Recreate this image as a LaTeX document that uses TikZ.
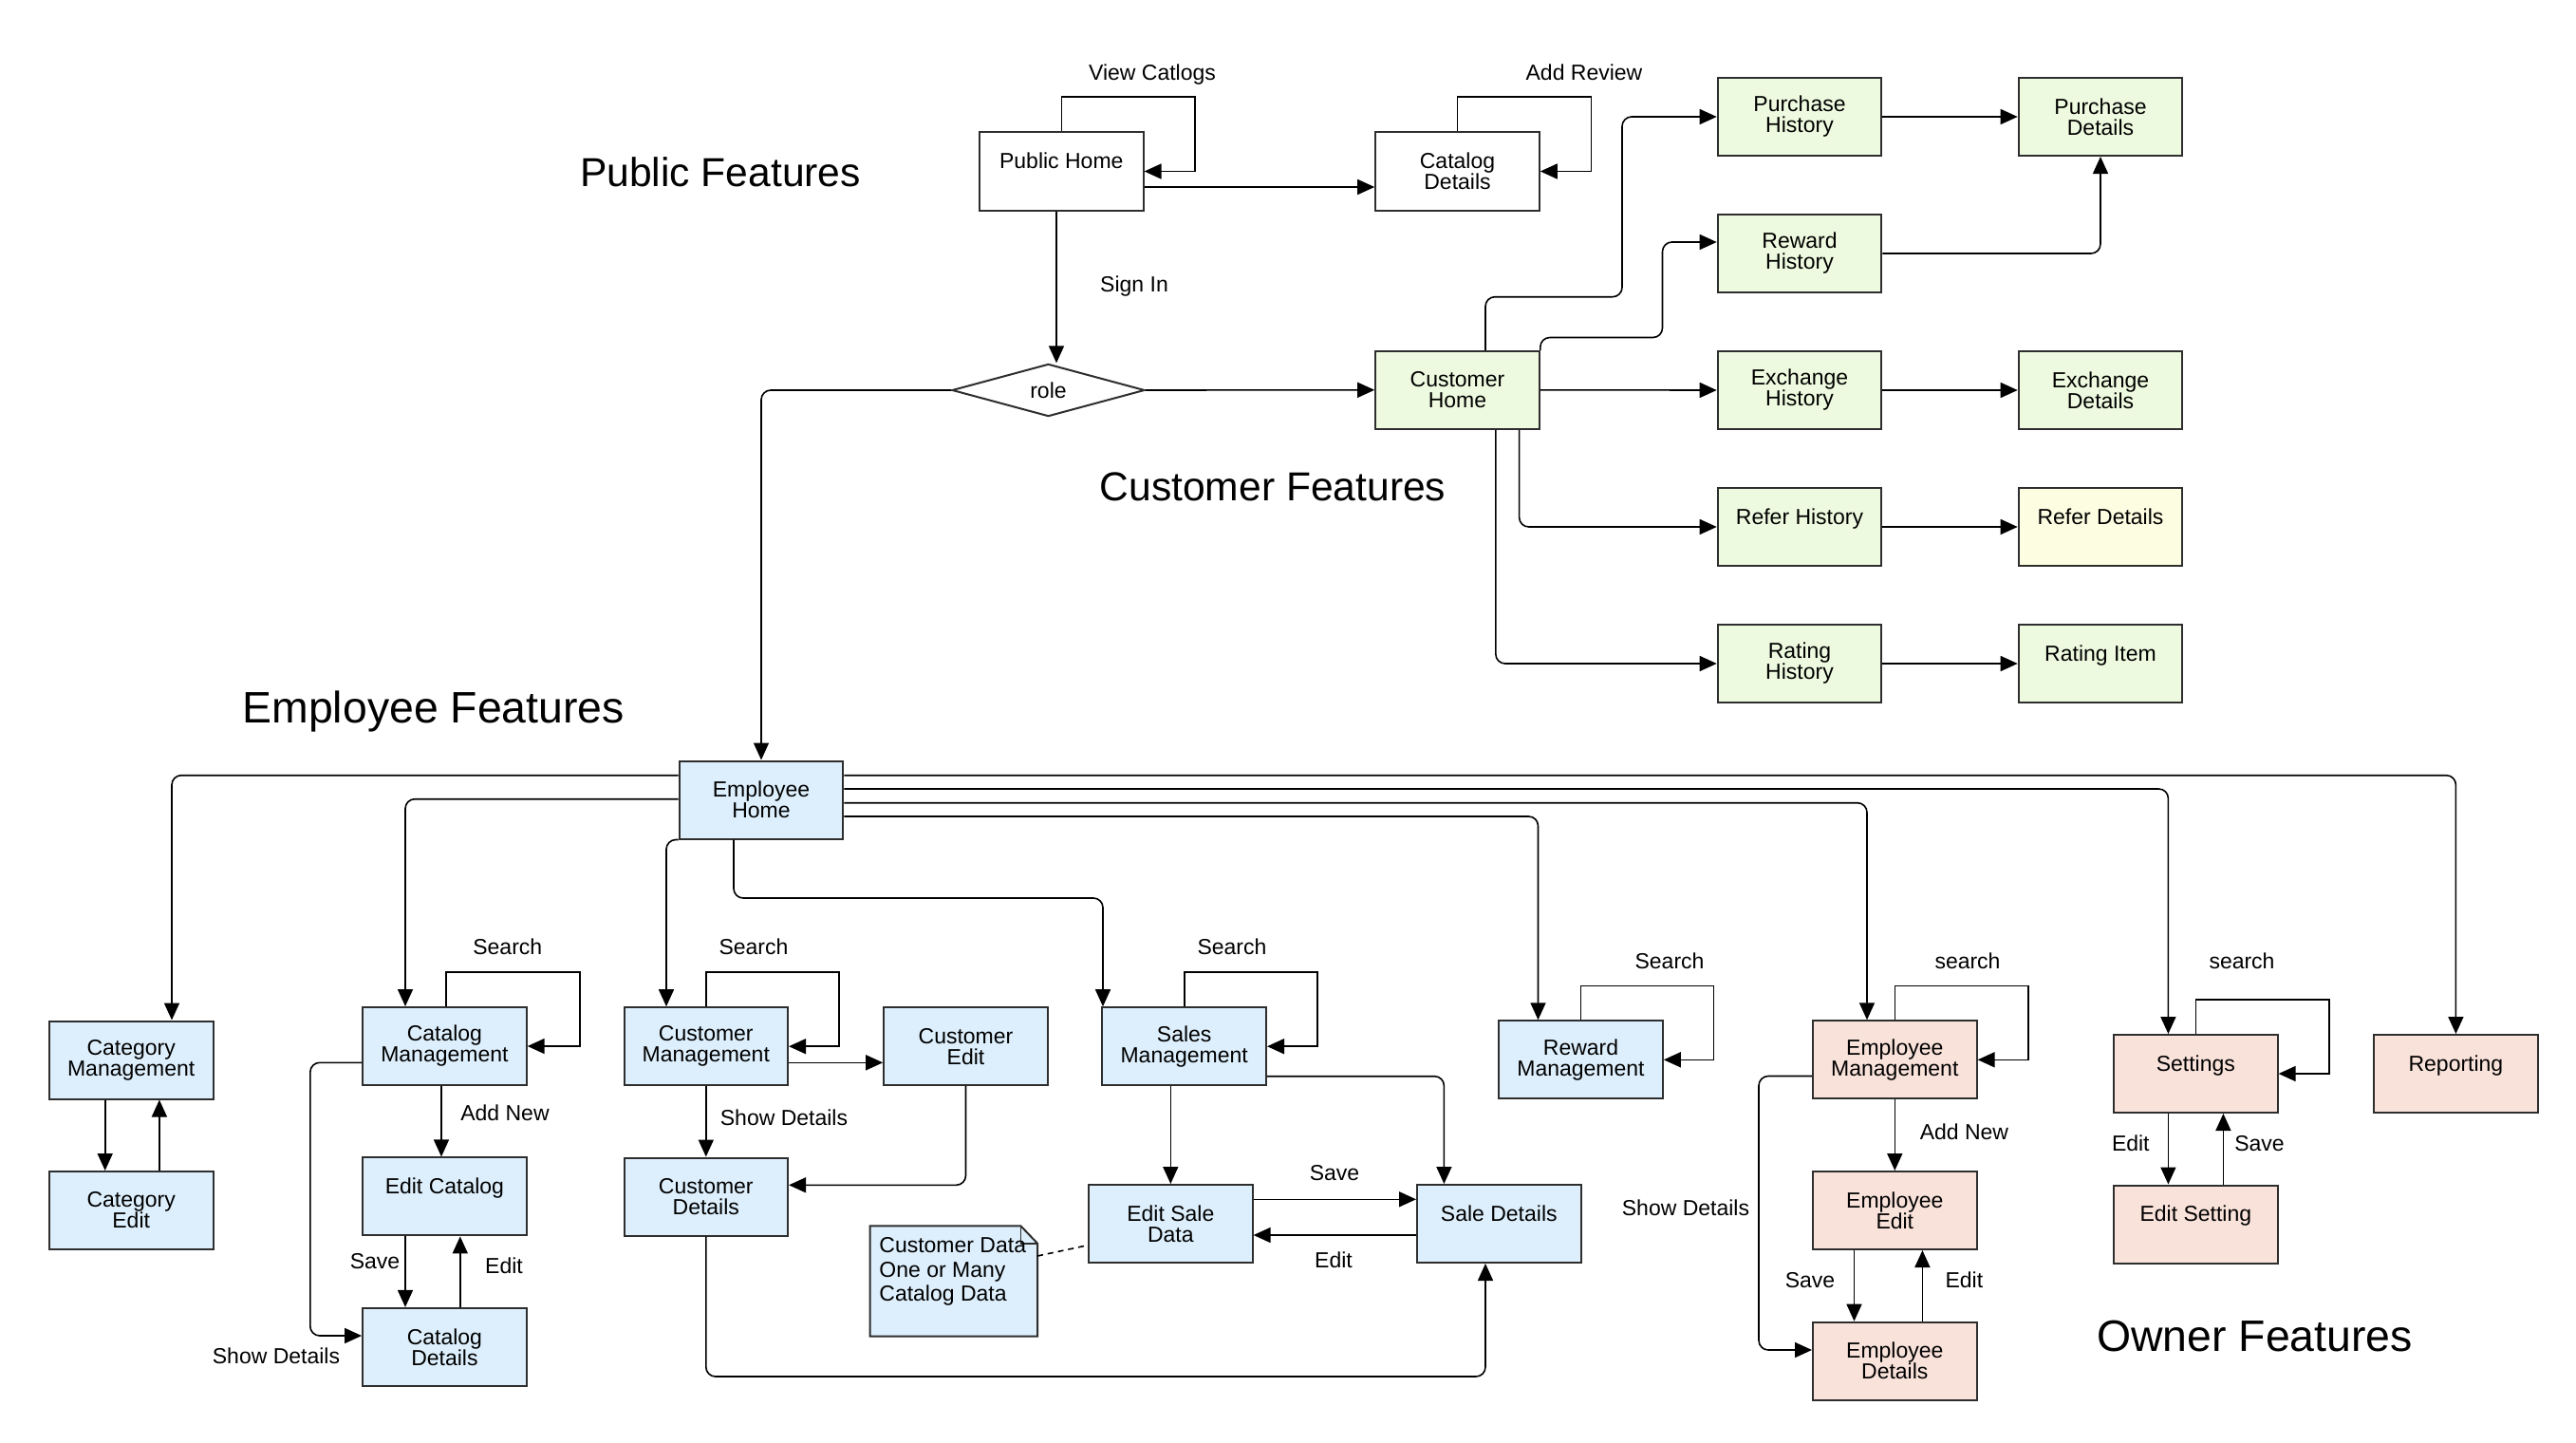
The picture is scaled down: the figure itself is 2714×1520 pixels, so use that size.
\documentclass[tikz,border=0pt]{standalone}
\usepackage{fontspec}
\setmainfont{Liberation Sans}
\usetikzlibrary{arrows.meta,shapes.geometric}
\definecolor{cgreen}{HTML}{EEFADF}
\definecolor{cblue}{HTML}{DDEFFC}
\definecolor{csalmon}{HTML}{F9E2DA}
\definecolor{cyellow}{HTML}{FDFDE1}
\definecolor{bordc}{HTML}{2E2E2E}
\begin{document}
\begin{tikzpicture}[x=0.5pt,y=-0.5pt,
  box/.style={draw=bordc, line width=1pt, minimum width=86.3pt, minimum height=41pt, inner sep=0pt, align=center, font=\fontsize{11.5}{11}\selectfont},
  pub/.style={box, fill=white},
  cus/.style={box, fill=cgreen},
  emp/.style={box, fill=cblue},
  own/.style={box, fill=csalmon},
  arr/.style={draw=black, line width=0.8pt, -{Triangle[length=9pt,width=8pt]}},
  rc/.style={rounded corners=5pt},
  lbl/.style={font=\fontsize{11.5}{11}\selectfont, inner sep=0pt, anchor=base},
  head/.style={font=\fontsize{21.3}{24}\selectfont, inner sep=0pt, anchor=base},
  headbig/.style={font=\fontsize{23.2}{26}\selectfont, inner sep=0pt, anchor=base}]
\fill[white] (0,0) rectangle (2714,1520);
\useasboundingbox (0,0) rectangle (2714,1520);

% ---------- Public ----------
\node[pub] (ph) at (1118.3,180.5) {Public Home\\~};
\node[pub] (pcd) at (1535.5,180.5) {Catalog\\Details};
\node[draw=bordc, line width=1pt, diamond, minimum width=101.5pt, minimum height=26.5pt, inner sep=0pt, fill=white, font=\fontsize{11.5}{11}\selectfont] (role) at (1104.5,411) {role};

% ---------- Customer ----------
\node[cus] (ch) at (1535.5,410.8) {Customer\\Home};
\node[cus] (purH) at (1896,123) {Purchase\\History};
\node[cus] (purD) at (2213,123) {Purchase\\Details};
\node[cus] (rewH) at (1896,267) {Reward\\History};
\node[cus] (exH) at (1896,411) {Exchange\\History};
\node[cus] (exD) at (2213,411) {Exchange\\Details};
\node[cus] (refH) at (1896,555) {Refer History\\~};
\node[box, fill=cyellow] (refD) at (2213,555) {Refer Details\\~};
\node[cus] (ratH) at (1896,699) {Rating\\History};
\node[cus] (ratI) at (2213,699) {Rating Item\\~};

% ---------- Employee ----------
\node[emp] (eh) at (802,842.5) {Employee\\Home};
\node[emp] (catgM) at (138.2,1116.5) {Category\\Management};
\node[emp] (catgE) at (138.2,1275) {Category\\Edit};
\node[emp] (catM) at (468.4,1102) {Catalog\\Management};
\node[emp] (editCat) at (468.4,1260.4) {Edit Catalog\\~};
\node[emp] (catD) at (468.4,1418.9) {Catalog\\Details};
\node[emp] (custM) at (743.8,1102.2) {Customer\\Management};
\node[emp] (custE) at (1017.5,1102.2) {Customer\\Edit};
\node[emp] (custD) at (743.8,1260.5) {Customer\\Details};
\node[emp] (salesM) at (1247.7,1102.2) {Sales\\Management};
\node[emp] (esd) at (1233.3,1289) {Edit Sale\\Data};
\node[emp] (sd) at (1579.3,1289) {Sale Details\\~};
\node[emp] (rewM) at (1665.5,1116.3) {Reward\\Management};

% note
\node[inner sep=0pt, minimum width=87.8pt, minimum height=57.8pt] (note) at (1004.8,1349.5) {};
\filldraw[fill=cblue, draw=bordc, line width=1pt] (note.north west) -- ([xshift=-8.8pt]note.north east) -- ([yshift=-9.2pt]note.north east) -- (note.south east) -- (note.south west) -- cycle;
\draw[bordc, line width=0.8pt] ([xshift=-8.8pt]note.north east) -- ([xshift=-8.8pt,yshift=-9.2pt]note.north east) -- ([yshift=-9.2pt]note.north east);
\node[anchor=north west, align=left, inner sep=0pt, font=\fontsize{11.5}{12.85}\selectfont] (notetext) at (926,1303) {Customer Data\\One or Many\\Catalog Data};

% ---------- Owner ----------
\node[own] (empM) at (1996.3,1116.3) {Employee\\Management};
\node[own] (empE) at (1996.3,1275) {Employee\\Edit};
\node[own] (empD) at (1996.3,1433.7) {Employee\\Details};
\node[own] (set) at (2313.3,1131) {Settings\\~};
\node[own] (editSet) at (2313.3,1289.5) {Edit Setting\\~};
\node[own] (rep) at (2587.4,1131) {Reporting\\~};

% ---------- Headings ----------
\node[head] (hpub) at (759,196.7) {Public Features};
\node[head] (hcus) at (1341,527.3) {Customer Features};
\node[headbig] (hemp) at (456.7,761.7) {Employee Features};
\node[headbig] (hown) at (2375.5,1423.3) {Owner Features};

% ---------- Public connectors ----------
\draw[arr] (ph.north) |- (1259,102) |- (ph.east);
\draw[arr] (pcd.north) |- (1676.5,102) |- (pcd.east);
\draw[arr] (ph.east |- 0,197) -- (pcd.west |- 0,197);
\draw[arr] (ph.south -| 1113,0) -- (role.north -| 1113,0);
\draw[arr] (role.east) -- (ch.west);
\draw[arr,rc] (role.west) -| (eh.north);

\node[lbl] (lview) at (1214,85) {View Catlogs};
\node[lbl] (ladd) at (1669,85) {Add Review};
\node[lbl] (lsign) at (1195,307) {Sign In};

% ---------- Customer connectors ----------
\draw[arr,rc] (ch.north -| 1565,0) |- (1709,312.7) |- (purH.west);
\draw[arr,rc] (ch.north east) |- (1751.5,355.5) |- (rewH.west |- 0,255);
\draw[arr] (ch.east) -- (exH.west);
\draw[arr,rc] (ch.south -| 1600.6,0) |- (refH.west);
\draw[arr,rc] (ch.south -| 1575.8,0) |- (ratH.west);
\draw[arr] (purH.east) -- (purD.west);
\draw[arr,rc] (rewH.east) -| (purD.south);
\draw[arr] (exH.east) -- (exD.west);
\draw[arr] (refH.east) -- (refD.west);
\draw[arr] (ratH.east) -- (ratI.west);

% ---------- Employee Home connectors ----------
\draw[arr,rc] (eh.west |- 0,816.7) -| (catgM.north -| 181,0);
\draw[arr,rc] (eh.west |- 0,841.7) -| (catM.north -| 427,0);
\draw[arr,rc] (eh.south west) -| (custM.north -| 702,0);
\draw[arr,rc] (eh.south -| 773,0) |- (1162,946) -- (salesM.north -| 1162,0);
\draw[arr,rc] (eh.east |- 0,860) -| (rewM.north -| 1620.5,0);
\draw[arr,rc] (eh.east |- 0,845.7) -| (empM.north -| 1967,0);
\draw[arr,rc] (eh.east |- 0,831) -| (set.north -| 2284.4,0);
\draw[arr,rc] (eh.east |- 0,816.7) -| (rep.north);

% ---------- Category / Catalog ----------
\draw[arr] (catgM.south -| 110.7,0) -- (catgE.north -| 110.7,0);
\draw[arr] (catgE.north -| 167.9,0) -- (catgM.south -| 167.9,0);
\draw[arr] (catM.north -| 470,0) |- (610.7,1023.8) |- (catM.east);
\draw[arr] (catM.south -| 465,0) -- (editCat.north -| 465,0);
\draw[arr] (editCat.south -| 427,0) -- (catD.north -| 427,0);
\draw[arr] (catD.north -| 484.8,0) -- (editCat.south -| 484.8,0);
\draw[arr,rc] (catM.west |- 0,1119.3) -| (326.8,1407) -- (catD.west |- 0,1407);
\node[lbl] (lcs) at (534.8,1005.4) {Search};
\node[lbl] (lcan) at (532,1180) {Add New};
\node[lbl] (lcsave) at (395,1336) {Save};
\node[lbl] (lcedit) at (531,1341.6) {Edit};
\node[lbl] (lcsd) at (291,1436.6) {Show Details};

% ---------- Customer mgmt ----------
\draw[arr] (custM.north) |- (884,1024) |- (custM.east);
\draw[arr] (custM.east |- 0,1119.3) -- (custE.west |- 0,1119.3);
\draw[arr] (custM.south) -- (custD.north);
\draw[arr,rc] (custE.south) |- (custD.east |- 0,1248.3);
\draw[arr,rc] (custD.south) |- (1565,1450) -- (sd.south -| 1565,0);
\node[lbl] (lus) at (794,1005) {Search};
\node[lbl] (lusd) at (826,1185) {Show Details};

% ---------- Sales ----------
\draw[arr] (salesM.north) |- (1388,1024) |- (salesM.east);
\draw[arr] (salesM.south -| esd.north) -- (esd.north);
\draw[arr,rc] (salesM.east |- 0,1133.7) -| (sd.north -| 1521.4,0);
\draw[arr] (esd.east |- 0,1263.3) -- (sd.west |- 0,1263.3);
\draw[arr] (sd.west |- 0,1301) -- (esd.east |- 0,1301);
\draw[line width=0.8pt, dash pattern=on 3pt off 2.5pt] (note.east |- 0,1323) -- (esd.west |- 0,1311.7);
\node[lbl] (lss) at (1298,1005) {Search};
\node[lbl] (lssave) at (1406,1243.7) {Save};
\node[lbl] (lsedit) at (1405,1335.7) {Edit};

% ---------- Reward / Owner ----------
\draw[arr] (rewM.north) |- (1805.3,1038.4) |- (rewM.east);
\node[lbl] (lrs) at (1759,1020.5) {Search};
\draw[arr] (empM.north) |- (2137,1038.4) |- (empM.east);
\draw[arr] (empM.south) -- (empE.north);
\draw[arr] (empE.south -| 1953.5,0) -- (empD.north -| 1953.5,0);
\draw[arr] (empD.north -| 2025.4,0) -- (empE.south -| 2025.4,0);
\draw[arr,rc] (empM.west |- 0,1133.5) -| (1853,1422) -- (empD.west |- 0,1422);
\node[lbl] (les) at (2073,1020.5) {search};
\node[lbl] (lean) at (2069.4,1200) {Add New};
\node[lbl] (lesave) at (1907,1356) {Save};
\node[lbl] (leedit) at (2069.4,1356) {Edit};
\node[lbl] (lesd) at (1776,1280.8) {Show Details};

\draw[arr] (set.north) |- (2453.9,1052.8) |- (set.east);
\draw[arr] (set.south -| 2284.4,0) -- (editSet.north -| 2284.4,0);
\draw[arr] (editSet.north -| 2342.4,0) -- (set.south -| 2342.4,0);
\node[lbl] (lss2) at (2362,1020.5) {search};
\node[lbl] (lsedit2) at (2244.8,1212.4) {Edit};
\node[lbl] (lssave2) at (2380.5,1212.4) {Save};
\end{tikzpicture}
\end{document}
